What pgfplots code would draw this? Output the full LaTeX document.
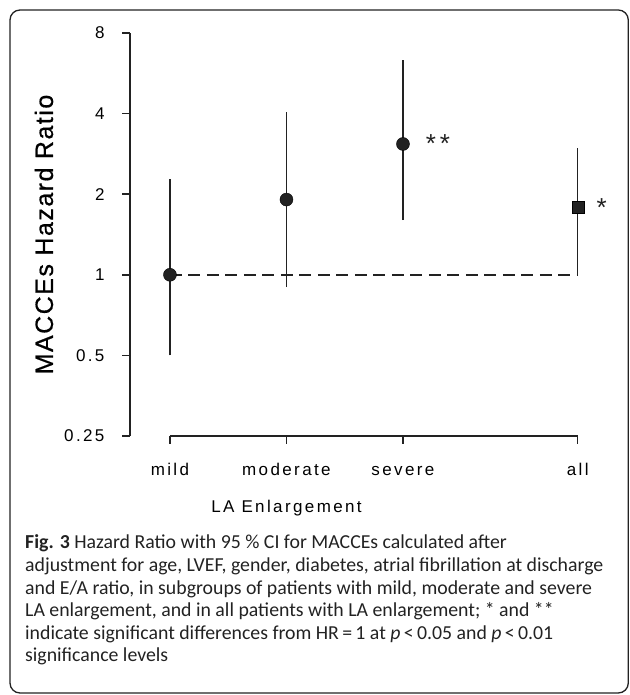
\documentclass[border=0pt]{standalone}
\usepackage{fontspec}
\usepackage{pgfplots}
\pgfplotsset{compat=1.18}
\setmainfont{Liberation Sans}
\newfontfamily\chartfont[LetterSpace=14]{Liberation Sans}
\newfontfamily\labelfont[LetterSpace=6, FakeBold=0.6]{Liberation Sans}
\newfontfamily\capfont{Carlito}
\definecolor{ink}{HTML}{222222}

\begin{document}
\begin{tikzpicture}[x=1pt,y=1pt]
  \useasboundingbox (0,0) rectangle (629,695);
  % rounded frame round the figure and its caption
  \draw[ink, line width=1.3pt, rounded corners=10pt] (10,2) rectangle (628.3,685);

  \begin{axis}[
    at={(130pt,259pt)}, anchor=south west,
    scale only axis,
    width=494.3pt, height=403pt,
    xmin=-0.343, xmax=3.9,
    ymin=0.25, ymax=8,
    ymode=log, log basis y={2},
    clip=false,
    axis x line*=bottom, axis y line*=left,
    x axis line style={draw=none},
    y axis line style={ink, line width=1.5pt, -},
    xtick={0,1,2,3.5},
    xticklabels={mild,moderate,severe,all},
    ytick={0.25,0.5,1,2,4,8},
    yticklabels={0.25,0.5,1,2,4,8},
    tick align=outside,
    major tick length=8pt,
    tick style={ink, line width=1.5pt},
    /pgf/number format/assume math mode=true,
    xticklabel style={font=\fontsize{17}{20}\chartfont, anchor=base, yshift=-32pt},
    yticklabel style={font=\fontsize{17}{20}\chartfont, anchor=east, xshift=-14pt},
    xlabel={LA Enlargement},
    ylabel={MACCEs Hazard Ratio},
    every axis x label/.style={at={(axis description cs:0.3166,-0.191)}, anchor=base, font=\fontsize{17}{20}\chartfont},
    every axis y label/.style={at={(axis description cs:-0.174,0.5)}, anchor=center, rotate=90, font=\fontsize{25}{28}\labelfont},
  ]
  % reference line at HR = 1
  \addplot[ink, line width=1.5pt, dash pattern=on 12pt off 6.5pt] coordinates {(0,1) (3.5,1)};
  % 95 % confidence intervals
  \addplot[ink, line width=1.5pt, no marks] coordinates {(0,0.50) (0,2.28)};
  \addplot[ink, line width=1.5pt, no marks] coordinates {(1,0.90) (1,4.06)};
  \addplot[ink, line width=1.5pt, no marks] coordinates {(2,1.60) (2,6.35)};
  \addplot[ink, line width=1.5pt, no marks] coordinates {(3.5,1.0) (3.5,2.98)};
  % hazard ratios
  \addplot[only marks, mark=*, mark size=6.5pt, mark options={fill=ink, draw=none}]
    coordinates {(0,1.0) (1,1.91) (2,3.08)};
  \addplot[only marks, mark=square*, mark size=6pt, mark options={fill=ink, draw=none}]
    coordinates {(3.5,1.79)};
  % x axis line, from the first category to the last
  \draw[ink, line width=1.5pt] (axis cs:0,0.25) -- (axis cs:3.5,0.25);
  % significance marks
  \node[ink, font=\fontsize{26}{26}\selectfont, inner sep=0pt] at (axis cs:2.30,3.08) {*\hspace{4pt}*};
  \node[ink, font=\fontsize{26}{26}\selectfont, inner sep=0pt] at (axis cs:3.706,1.79) {*};
  \end{axis}

  % caption
  \node[anchor=base west, align=left, inner sep=0pt, text=ink,
        font=\fontsize{19.8}{22.6}\capfont] at (25,33)
    {\textbf{Fig. 3} Hazard Ratio with 95 \% CI for MACCEs calculated after\\
     adjustment for age, LVEF, gender, diabetes, atrial fibrillation at discharge\\
     and E/A ratio, in subgroups of patients with mild, moderate and severe\\
     LA enlargement, and in all patients with LA enlargement; * and **\\
     indicate significant differences from HR\,=\,1 at \textit{p}\,<\,0.05 and \textit{p}\,<\,0.01\\
     significance levels};
\end{tikzpicture}
\end{document}
